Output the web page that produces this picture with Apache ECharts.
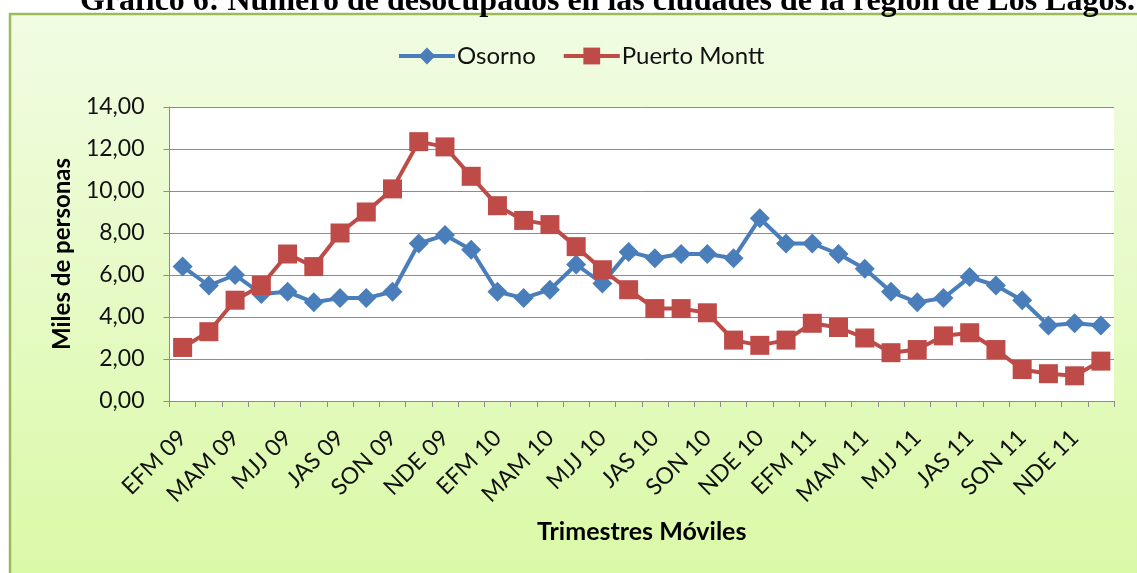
<!DOCTYPE html>
<html>
<head>
<meta charset="utf-8">
<script src="https://cdn.jsdelivr.net/npm/echarts@6/dist/echarts.min.js"></script>
<style>
  html, body { margin: 0; padding: 0; background: #fff; }
  #chart { width: 1137px; height: 573px; }
</style>
</head>
<body>
<div id="chart"></div>
<script>
// trimestres moviles, ene 2009 - feb 2012
var categorias = [
  'EFM 09', 'FMA 09', 'MAM 09', 'AMJ 09', 'MJJ 09', 'JJA 09', 'JAS 09', 'ASO 09', 'SON 09', 'OND 09', 'NDE 09', 'DEF 10',
  'EFM 10', 'FMA 10', 'MAM 10', 'AMJ 10', 'MJJ 10', 'JJA 10', 'JAS 10', 'ASO 10', 'SON 10', 'OND 10', 'NDE 10', 'DEF 11',
  'EFM 11', 'FMA 11', 'MAM 11', 'AMJ 11', 'MJJ 11', 'JJA 11', 'JAS 11', 'ASO 11', 'SON 11', 'OND 11', 'NDE 11', 'DEF 12'
];
// miles de personas
var osorno = [6.4, 5.5, 6.0, 5.1, 5.2, 4.7, 4.9, 4.9, 5.2, 7.5, 7.9, 7.2,
              5.2, 4.9, 5.3, 6.5, 5.6, 7.1, 6.8, 7.0, 7.0, 6.8, 8.7, 7.5,
              7.5, 7.0, 6.3, 5.2, 4.7, 4.9, 5.9, 5.5, 4.8, 3.6, 3.7, 3.6];
var puertoMontt = [2.55, 3.3, 4.8, 5.5, 7.0, 6.4, 8.0, 9.0, 10.1, 12.35, 12.1, 10.7,
                   9.3, 8.6, 8.4, 7.35, 6.25, 5.3, 4.4, 4.4, 4.2, 2.9, 2.65, 2.9,
                   3.7, 3.5, 3.0, 2.3, 2.45, 3.1, 3.25, 2.45, 1.5, 1.3, 1.2, 1.9];

var titulo = 'Gráfico 6: Número de desocupados en las ciudades de la región de Los Lagos.';
var font = 'Lato, "Open Sans", sans-serif';

var chart = echarts.init(document.getElementById('chart'));
chart.setOption({
  animation: false,
  graphic: [
    {
      type: 'rect', z: -10, silent: true,
      shape: { x: 10, y: 14, width: 1140, height: 570 },
      style: {
        fill: new echarts.graphic.LinearGradient(0, 0, 0, 1, [
          { offset: 0, color: '#F1FCE3' },
          { offset: 1, color: '#DAF9A6' }
        ]),
        stroke: '#9BBB59', lineWidth: 2.5
      }
    },
    {
      type: 'text', silent: true,
      left: 80, top: -14,
      style: {
        text: titulo,
        font: 'bold 32px "Liberation Serif", serif',
        fill: '#000'
      }
    }
  ],
  legend: {
    data: ['Osorno', 'Puerto Montt'],
    left: 392,
    top: 39,
    itemWidth: 56,
    itemHeight: 21,
    itemGap: 26,
    lineStyle: { width: 4 },
    textStyle: { fontFamily: font, fontSize: 24, color: '#111', padding: [0, 0, 0, -3] }
  },
  grid: {
    left: 169.5, right: 23, top: 107, bottom: 172,
    show: true, backgroundColor: '#fff', borderWidth: 0
  },
  xAxis: {
    type: 'category',
    data: categorias,
    boundaryGap: true,
    name: 'Trimestres Móviles',
    nameLocation: 'middle',
    nameGap: 118,
    nameTextStyle: { fontFamily: font, fontSize: 25, fontWeight: 'bold', color: '#000' },
    axisLine: { lineStyle: { color: '#8c8c8c', width: 1 } },
    axisTick: { show: true, interval: 0, length: 6, lineStyle: { color: '#8c8c8c' } },
    axisLabel: {
      interval: 1,
      rotate: 45,
      margin: 33,
      fontFamily: font,
      fontSize: 23,
      color: '#111'
    }
  },
  yAxis: {
    type: 'value',
    min: 0, max: 14, interval: 2,
    name: 'Miles de personas',
    nameLocation: 'middle',
    nameGap: 95,
    nameTextStyle: { fontFamily: font, fontSize: 24, fontWeight: 'bold', color: '#000' },
    axisLine: { show: true, lineStyle: { color: '#8c8c8c', width: 1 } },
    axisTick: { show: true, length: 6, lineStyle: { color: '#8c8c8c' } },
    splitLine: { lineStyle: { color: '#8c8c8c', width: 1 } },
    axisLabel: {
      margin: 25,
      fontFamily: font,
      fontSize: 23,
      color: '#111',
      formatter: function (v) { return v.toFixed(2).replace('.', ','); }
    }
  },
  series: [
    {
      name: 'Osorno',
      type: 'line',
      data: osorno,
      symbol: 'diamond',
      symbolSize: 20,
      showAllSymbol: true,
      itemStyle: { color: '#4A7EBB' },
      lineStyle: { color: '#4A7EBB', width: 4 }
    },
    {
      name: 'Puerto Montt',
      type: 'line',
      data: puertoMontt,
      symbol: 'rect',
      symbolSize: 19,
      showAllSymbol: true,
      itemStyle: { color: '#BE4B48' },
      lineStyle: { color: '#BE4B48', width: 4 }
    }
  ]
});
</script>
</body>
</html>
